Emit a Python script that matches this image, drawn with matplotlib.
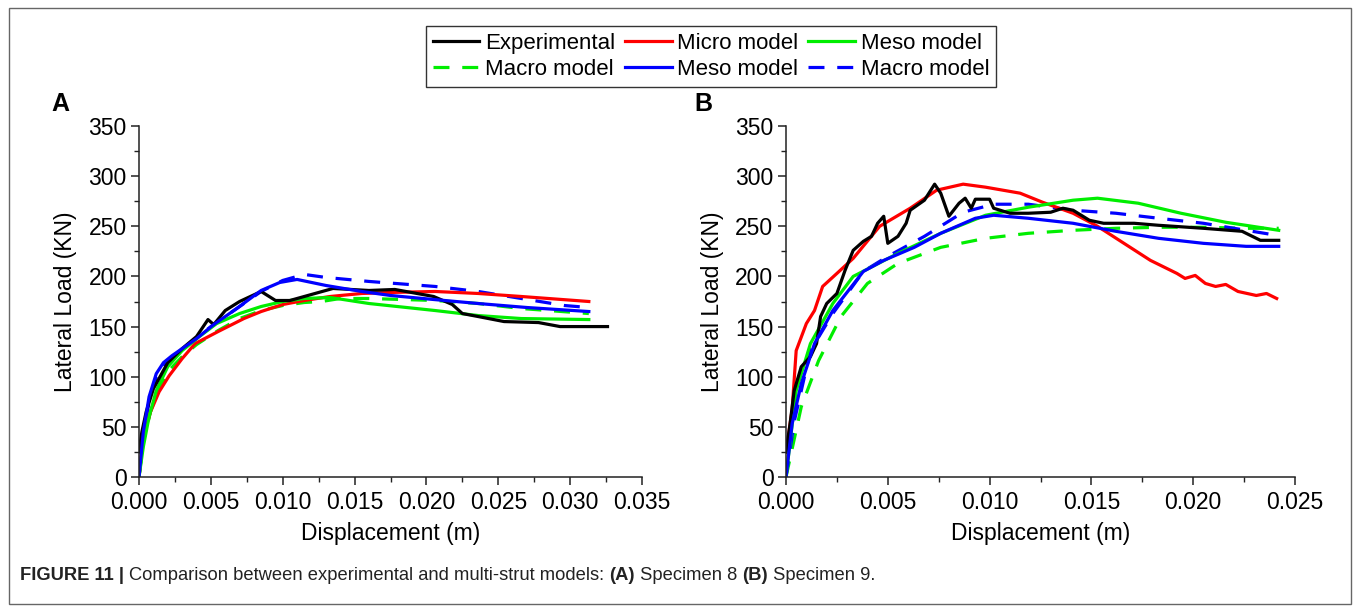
import matplotlib
matplotlib.use('Agg')
import matplotlib.pyplot as plt
from matplotlib.lines import Line2D
from matplotlib.patches import Rectangle
from matplotlib.ticker import MultipleLocator, FormatStrFormatter

plt.rcParams['font.family'] = ['Liberation Sans', 'DejaVu Sans']

# ---- Specimen 8 (panel A) ----
a_exp_x = [0, 0.0002, 0.0005, 0.001, 0.002, 0.003, 0.004, 0.0048, 0.0052, 0.006, 0.007,
           0.0085, 0.0095, 0.0105, 0.012, 0.0135, 0.016, 0.0178, 0.0205, 0.0218, 0.0225,
           0.0236, 0.0254, 0.0278, 0.0293, 0.0326]
a_exp_y = [25, 45, 65, 88, 114, 128, 140, 157, 152, 166, 175,
           185, 176, 176, 182, 188, 186, 187, 180, 172, 163,
           160, 155, 154, 150, 150]
a_micro_x = [0, 0.0003, 0.0008, 0.0014, 0.0021, 0.003, 0.0039, 0.0055, 0.0073, 0.0085,
             0.010, 0.0115, 0.0133, 0.0155, 0.0175, 0.0206, 0.0236, 0.0266, 0.0313]
a_micro_y = [0, 40, 65, 85, 101, 118, 133, 145, 158, 165,
             172, 176, 180, 183, 184, 185, 183, 180, 175]
a_meso_g_x = [0, 0.0003, 0.0007, 0.0012, 0.002, 0.003, 0.0042, 0.0054, 0.007, 0.0085,
              0.010, 0.0115, 0.0133, 0.016, 0.0206, 0.0236, 0.0266, 0.0313]
a_meso_g_y = [0, 30, 60, 86, 110, 126, 140, 153, 163, 170,
              175, 178, 179, 173, 166, 161, 158, 157]
a_macro_g_x = [0, 0.0003, 0.0008, 0.0013, 0.002, 0.003, 0.004, 0.0055, 0.007, 0.0085,
               0.010, 0.0115, 0.0127, 0.014, 0.016, 0.0206, 0.0236, 0.0266, 0.0313]
a_macro_g_y = [0, 35, 65, 85, 105, 120, 132, 146, 158, 166,
               171, 174, 175, 178, 178, 176, 173, 168, 163]
a_meso_b_x = [0, 0.0003, 0.0007, 0.0012, 0.0017, 0.0023, 0.003, 0.004, 0.0052, 0.0068,
              0.0085, 0.0098, 0.011, 0.013, 0.0155, 0.0175, 0.0205, 0.0236, 0.027, 0.0313]
a_meso_b_y = [0, 45, 80, 103, 114, 121, 128, 138, 152, 168,
              186, 194, 197, 191, 185, 181, 177, 173, 169, 165]
a_macro_b_x = [0, 0.0003, 0.0007, 0.0012, 0.0018, 0.0025, 0.0035, 0.005, 0.0068, 0.0085,
               0.010, 0.0115, 0.013, 0.016, 0.0206, 0.0236, 0.0266, 0.0296, 0.0313]
a_macro_b_y = [0, 40, 75, 100, 113, 122, 133, 150, 168, 185,
               196, 202, 199, 195, 190, 185, 178, 171, 169]

# ---- Specimen 9 (panel B) ----
b_exp_x = [0, 0.0002, 0.0004, 0.00075, 0.0012, 0.0015, 0.0017, 0.002, 0.0025, 0.0029,
           0.0033, 0.0038, 0.0042, 0.0045, 0.0048, 0.005, 0.0055, 0.0059, 0.0061, 0.0068,
           0.0073, 0.0076, 0.008, 0.0085, 0.0088, 0.0091, 0.0093, 0.010, 0.0102, 0.011,
           0.0119, 0.013, 0.0136, 0.0141, 0.0149, 0.0156, 0.0171, 0.0183, 0.0205, 0.0224,
           0.0233, 0.0242]
b_exp_y = [25, 53, 86, 110, 120, 133, 160, 173, 183, 206,
           226, 235, 240, 253, 260, 233, 240, 253, 266, 276,
           292, 283, 260, 273, 278, 268, 277, 277, 268, 263,
           263, 264, 268, 266, 256, 253, 253, 251, 248, 245,
           236, 236]
b_micro_x = [0, 0.0003, 0.0005, 0.001, 0.0014, 0.0018, 0.0025, 0.0033, 0.0046, 0.0061,
             0.0074, 0.0087, 0.0098, 0.0115, 0.0126, 0.0141, 0.0153, 0.0166, 0.0179, 0.0192,
             0.0196, 0.0201, 0.0206, 0.0211, 0.0216, 0.0222, 0.0231, 0.0236, 0.0241]
b_micro_y = [25, 67, 126, 153, 166, 190, 203, 218, 250, 268,
             286, 292, 289, 283, 274, 263, 250, 233, 216, 203,
             198, 201, 193, 190, 192, 185, 181, 183, 178]
b_meso_g_x = [0, 0.0005, 0.0012, 0.0023, 0.0033, 0.0055, 0.0076, 0.0098, 0.0119, 0.0141,
              0.0153, 0.0173, 0.0194, 0.0216, 0.0242]
b_meso_g_y = [0, 86, 133, 173, 200, 223, 243, 261, 269, 276,
              278, 273, 263, 254, 246]
b_macro_g_x = [0, 0.00075, 0.0016, 0.0027, 0.004, 0.0055, 0.0076, 0.0098, 0.0119, 0.0141,
               0.0162, 0.0183, 0.0205, 0.0226, 0.0242]
b_macro_g_y = [0, 70, 116, 160, 193, 213, 229, 238, 243, 246,
               248, 249, 249, 248, 248]
b_meso_b_x = [0, 0.0003, 0.00075, 0.0014, 0.0023, 0.0038, 0.0048, 0.0063, 0.0076, 0.0093,
              0.0102, 0.0119, 0.0141, 0.0162, 0.0183, 0.0205, 0.0226, 0.0242]
b_meso_b_y = [0, 53, 93, 133, 166, 205, 216, 229, 243, 258,
              261, 258, 253, 245, 238, 233, 230, 230]
b_macro_b_x = [0, 0.0004, 0.0012, 0.0023, 0.0038, 0.005, 0.0068, 0.0087, 0.0102, 0.0119,
               0.0141, 0.0162, 0.0183, 0.0205, 0.0226, 0.0241]
b_macro_b_y = [0, 55, 126, 163, 205, 220, 240, 264, 272, 272,
               266, 263, 258, 253, 246, 241]

series_labels = ['Experimental', 'Micro model', 'Meso model',
                 'Macro model', 'Meso model', 'Macro model']
y_ticks = [0, 50, 100, 150, 200, 250, 300, 350]

BLACK, RED, GREEN, BLUE = 'black', '#ff0000', '#00ee00', '#0000ff'
LW = 2.3
DASH = (5, 4)

fig = plt.figure(figsize=(13.55, 6.10), dpi=100)
W, H = 1355, 610
axA = fig.add_axes([139 / W, (H - 477) / H, 503 / W, 351 / H])
axB = fig.add_axes([786 / W, (H - 477) / H, 509 / W, 351 / H])


def draw(ax, data):
    (ex, ey), (mx, my), (gx, gy), (gdx, gdy), (bx, by), (bdx, bdy) = data
    ax.plot(gdx, gdy, color=GREEN, lw=LW, dashes=DASH)
    ax.plot(bdx, bdy, color=BLUE, lw=LW, dashes=DASH)
    ax.plot(mx, my, color=RED, lw=LW)
    ax.plot(gx, gy, color=GREEN, lw=LW)
    ax.plot(ex, ey, color=BLACK, lw=LW)
    ax.plot(bx, by, color=BLUE, lw=LW)


draw(axA, [(a_exp_x, a_exp_y), (a_micro_x, a_micro_y), (a_meso_g_x, a_meso_g_y),
           (a_macro_g_x, a_macro_g_y), (a_meso_b_x, a_meso_b_y), (a_macro_b_x, a_macro_b_y)])
draw(axB, [(b_exp_x, b_exp_y), (b_micro_x, b_micro_y), (b_meso_g_x, b_meso_g_y),
           (b_macro_g_x, b_macro_g_y), (b_meso_b_x, b_meso_b_y), (b_macro_b_x, b_macro_b_y)])

for ax, xmax in [(axA, 0.035), (axB, 0.025)]:
    ax.set_xlim(0, xmax)
    ax.set_ylim(0, 350)
    ax.set_yticks(y_ticks)
    ax.xaxis.set_major_locator(MultipleLocator(0.005))
    ax.xaxis.set_minor_locator(MultipleLocator(0.0025))
    ax.yaxis.set_minor_locator(MultipleLocator(25))
    ax.xaxis.set_major_formatter(FormatStrFormatter('%.3f'))
    for s in ['top', 'right']:
        ax.spines[s].set_visible(False)
    for s in ['left', 'bottom']:
        ax.spines[s].set_linewidth(1.1)
        ax.spines[s].set_color('#222222')
    ax.tick_params(which='major', direction='out', length=6, width=1.1,
                   labelsize=16.5, color='#222222')
    ax.tick_params(axis='x', which='major', pad=4)
    ax.tick_params(axis='y', which='major', pad=3)
    ax.tick_params(which='minor', direction='out', length=3.5, width=1.0, color='#222222')
    ax.set_xlabel('Displacement (m)', fontsize=16.5, labelpad=6)
    ax.set_ylabel('Lateral Load (KN)', fontsize=16.5, labelpad=8)
    ax.patch.set_alpha(0)

fig.text(60 / W, 1 - 104 / H, 'A', fontsize=18, fontweight='bold', ha='center', va='center')
fig.text(703 / W, 1 - 104 / H, 'B', fontsize=18, fontweight='bold', ha='center', va='center')

# legend, row-major order as in the original
h_exp = Line2D([], [], color=BLACK, lw=LW)
h_micro = Line2D([], [], color=RED, lw=LW)
h_meso_g = Line2D([], [], color=GREEN, lw=LW)
h_macro_g = Line2D([], [], color=GREEN, lw=LW, dashes=DASH)
h_meso_b = Line2D([], [], color=BLUE, lw=LW)
h_macro_b = Line2D([], [], color=BLUE, lw=LW, dashes=DASH)
handles = [h_exp, h_macro_g, h_micro, h_meso_b, h_meso_g, h_macro_b]
labels = [series_labels[i] for i in [0, 3, 1, 4, 2, 5]]
leg = fig.legend(handles, labels, ncol=3, loc='center', bbox_to_anchor=(711 / W, 1 - 56.5 / H),
                 fontsize=16, handlelength=2.1, handletextpad=0.25, columnspacing=0.45,
                 labelspacing=0.22, borderpad=0.3, borderaxespad=0, fancybox=False,
                 edgecolor='#333333', framealpha=1)
leg.get_frame().set_linewidth(1.0)

# outer border
fig.patches.append(Rectangle((9 / W, 1 - 604 / H), 1342 / W, 596 / H, transform=fig.transFigure,
                             fill=False, ec='#666666', lw=1.0))

# caption built from pieces
pieces = [('FIGURE 11 | ', 'bold'), ('Comparison between experimental and multi-strut models: ', 'normal'),
          ('(A)', 'bold'), (' Specimen 8 ', 'normal'), ('(B)', 'bold'), (' Specimen 9.', 'normal')]
fig.canvas.draw()
renderer = fig.canvas.get_renderer()
x0 = 20
for txt, wt in pieces:
    t = fig.text(x0 / W, 1 - 576 / H, txt, fontsize=13.2, fontweight=wt, ha='left', va='center',
                 color='#222222')
    x0 += t.get_window_extent(renderer).width

fig.savefig('out.png', dpi=100)
